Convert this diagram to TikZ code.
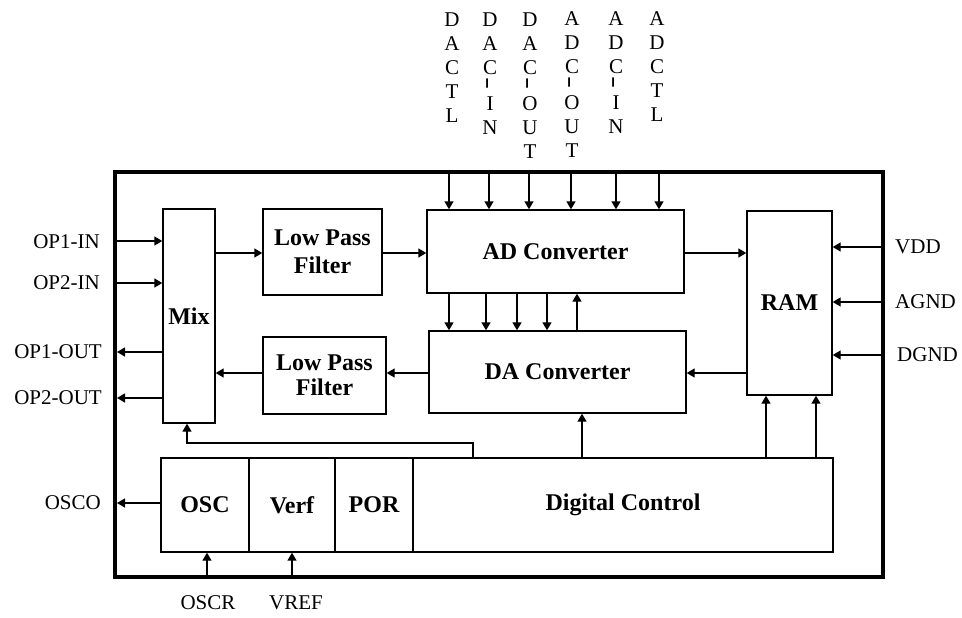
\documentclass[tikz,border=0pt]{standalone}
\usepackage{fontspec}
\usepackage{graphicx}
\setmainfont{Liberation Serif}
\usetikzlibrary{arrows.meta}
\newcommand{\vhyph}{\raisebox{-3pt}{\rotatebox{90}{\scalebox{1.7}[1.2]{-}}}}
\begin{document}
\begin{tikzpicture}[x=1pt,y=-1pt,
  blk/.style={draw, line width=1.4pt, inner sep=0, font=\fontsize{24}{27}\selectfont\bfseries, align=center},
  lab/.style={font=\fontsize{21}{24}\selectfont, inner sep=0},
  vlab/.style={font=\fontsize{21}{24}\selectfont, inner sep=0, align=center, anchor=north},
  arr/.style={line width=1.4pt, -{Triangle[length=8pt,width=9pt]}},
  chipbox/.style={draw, line width=3.5pt, inner sep=0}]
\useasboundingbox (0,0) rectangle (962,618);
% outer chip
\node[chipbox, minimum width=768pt, minimum height=405pt] (chip) at (499,374.5) {};
% blocks
\node[blk, minimum width=52pt, minimum height=214pt] (mix) at (189,316) {\raisebox{-5pt}{Mix}};
\node[blk, minimum width=119pt, minimum height=86pt] (lpf1) at (322.5,252) {Low Pass\\[1pt]Filter};
\node[blk, minimum width=123pt, minimum height=77pt] (lpf2) at (324.5,375.5) {Low Pass\\[-2pt]Filter};
\node[blk, minimum width=257pt, minimum height=83pt] (ad) at (555.5,251.5) {AD Converter};
\node[blk, minimum width=257pt, minimum height=82pt] (da) at (557.5,372) {DA Converter};
\node[blk, minimum width=85pt, minimum height=184pt] (ram) at (789.5,303) {RAM};
\node[blk, minimum width=88pt, minimum height=94pt] (osc) at (205,505) {OSC};
\node[blk, minimum width=86pt, minimum height=94pt] (verf) at (292,505) {Verf};
\node[blk, minimum width=78pt, minimum height=94pt] (por) at (374,505) {POR};
\node[blk, minimum width=420pt, minimum height=94pt] (dc) at (623,505) {Digital Control};
% top labels
\node[vlab] (dactl) at (452,13) {D\\A\\C\\T\\L};
\node[vlab] (dacin) at (490,13) {D\\A\\C\\[-12pt]\vhyph\\I\\N};
\node[vlab] (dacout) at (530,13) {D\\A\\C\\[-12pt]\vhyph\\O\\U\\T};
\node[vlab] (adcout) at (572,11) {A\\D\\C\\[-12pt]\vhyph\\O\\U\\T};
\node[vlab] (adcin) at (616,11) {A\\D\\C\\[-12pt]\vhyph\\I\\N};
\node[vlab] (adctl) at (657,11) {A\\D\\C\\T\\L};
% top input arrows
\foreach \n/\xx in {t1/449,t2/489,t3/529,t4/571,t5/616,t6/659}{
  \coordinate (\n) at (\xx,172);
  \draw[arr] (\n) -- (\n |- ad.north);
}
% left labels
\node[lab, anchor=east] (op1in) at (100,242) {OP1-IN};
\node[lab, anchor=east] (op2in) at (100,283) {OP2-IN};
\node[lab, anchor=east] (op1out) at (102,352) {OP1-OUT};
\node[lab, anchor=east] (op2out) at (102,398) {OP2-OUT};
\node[lab, anchor=east] (osco) at (101,503) {OSCO};
\coordinate (li1) at (115,241);
\coordinate (li2) at (115,283);
\coordinate (lo1) at (117,352);
\coordinate (lo2) at (117,398);
\coordinate (lo3) at (117,503);
\draw[arr] (li1) -- (li1 -| mix.west);
\draw[arr] (li2) -- (li2 -| mix.west);
\draw[arr] (lo1 -| mix.west) -- (lo1);
\draw[arr] (lo2 -| mix.west) -- (lo2);
\draw[arr] (osc.west |- lo3) -- (lo3);
% right labels
\node[lab, anchor=west] (vdd) at (895,247) {VDD};
\node[lab, anchor=west] (agnd) at (895,302) {AGND};
\node[lab, anchor=west] (dgnd) at (897,355) {DGND};
\coordinate (r1) at (883,247);
\coordinate (r2) at (883,302);
\coordinate (r3) at (883,355);
\draw[arr] (r1) -- (r1 -| ram.east);
\draw[arr] (r2) -- (r2 -| ram.east);
\draw[arr] (r3) -- (r3 -| ram.east);
% bottom labels
\node[lab] (oscr) at (208,603) {OSCR};
\node[lab] (vref) at (296,603) {VREF};
\coordinate (b1) at (207,577);
\coordinate (b2) at (292,577);
\draw[arr] (b1) -- (b1 |- osc.south);
\draw[arr] (b2) -- (b2 |- verf.south);
% signal path
\coordinate (y1) at (0,253);
\coordinate (y2) at (0,373);
\draw[arr] (mix.east |- y1) -- (lpf1.west |- y1);
\draw[arr] (lpf1.east |- y1) -- (ad.west |- y1);
\draw[arr] (ad.east |- y1) -- (ram.west |- y1);
\draw[arr] (ram.west |- y2) -- (da.east |- y2);
\draw[arr] (da.west |- y2) -- (lpf2.east |- y2);
\draw[arr] (lpf2.west |- y2) -- (mix.east |- y2);
% AD <-> DA
\foreach \n/\xx in {m1/449,m2/486,m3/517,m4/547}{
  \coordinate (\n) at (\xx,0);
  \draw[arr] (\n |- ad.south) -- (\n |- da.north);
}
\coordinate (m5) at (577,0);
\draw[arr] (m5 |- da.north) -- (m5 |- ad.south);
% digital control outputs
\coordinate (d1) at (582,0);
\coordinate (d2) at (766,0);
\coordinate (d3) at (816,0);
\draw[arr] (d1 |- dc.north) -- (d1 |- da.south);
\draw[arr] (d2 |- dc.north) -- (d2 |- ram.south);
\draw[arr] (d3 |- dc.north) -- (d3 |- ram.south);
% feedback to mix
\coordinate (fb) at (473,443);
\coordinate (fbx) at (187,0);
\draw[arr] (fb |- dc.north) -- (fb) -| (fbx |- mix.south);
\end{tikzpicture}
\end{document}
